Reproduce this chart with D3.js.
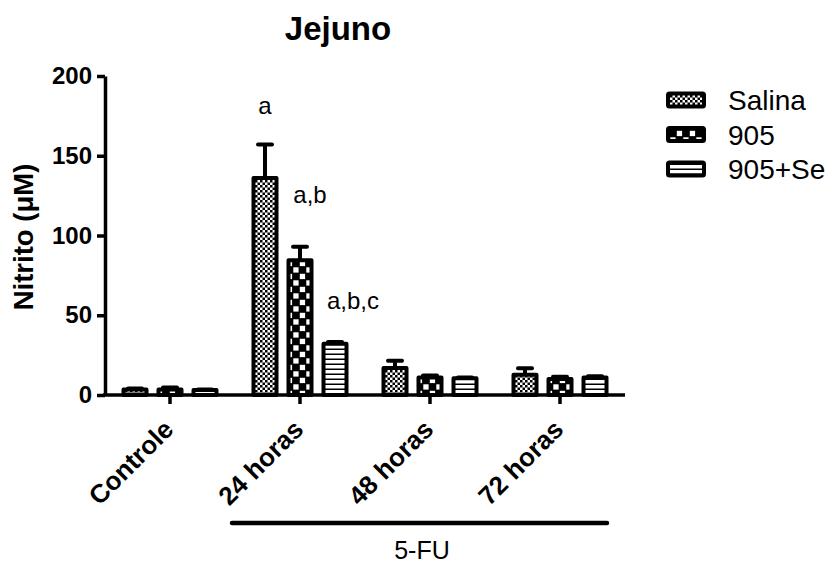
<!DOCTYPE html>
<html>
<head>
<meta charset="utf-8">
<script src="https://cdn.jsdelivr.net/npm/d3@7"></script>
<style>
  html, body { margin: 0; padding: 0; background: #fff; }
  svg { display: block; font-family: Arial, "Liberation Sans", sans-serif; }
</style>
</head>
<body>
<svg id="chart" width="829" height="563"></svg>
<script>
// Nitrite levels (µM) in jejunum, mean and SEM per group
const categories = ["Controle", "24 horas", "48 horas", "72 horas"];
const series = ["Salina", "905", "905+Se"];
const salina     = [3.5, 136, 17, 12.7];
const salinaErr  = [0.5, 21, 4.5, 4];
const g905       = [3.5, 84.5, 11, 10];
const g905Err    = [1.2, 8.5, 1.2, 1.5];
const g905Se     = [3.2, 32.2, 10.5, 11];
const g905SeErr  = [0.3, 1, 0.5, 0.8];
const yTicks = [0, 50, 100, 150, 200];
const sigLetters = ["a", "a,b", "a,b,c"];   // 24 horas: Salina, 905, 905+Se

const values = [salina, g905, g905Se];
const errors = [salinaErr, g905Err, g905SeErr];

const svg = d3.select("#chart");
const ink = "#000";

// ---------- fill patterns ----------
const defs = svg.append("defs");
// fine checkerboard
const pSal = defs.append("pattern").attr("id", "pat-salina")
  .attr("patternUnits", "userSpaceOnUse").attr("width", 5).attr("height", 5);
pSal.append("rect").attr("width", 5).attr("height", 5).attr("fill", "#fff");
pSal.append("rect").attr("width", 2.5).attr("height", 2.5).attr("fill", ink);
pSal.append("rect").attr("x", 2.5).attr("y", 2.5).attr("width", 2.5).attr("height", 2.5).attr("fill", ink);
// coarse checkerboard
const c = 6.5;
const p905 = defs.append("pattern").attr("id", "pat-905")
  .attr("patternUnits", "userSpaceOnUse").attr("width", 2 * c).attr("height", 2 * c);
p905.append("rect").attr("width", 2 * c).attr("height", 2 * c).attr("fill", ink);
p905.append("rect").attr("x", 0.8).attr("y", 0.8).attr("width", c - 1.2).attr("height", c - 1.2).attr("fill", "#fff");
p905.append("rect").attr("x", c + 0.8).attr("y", c + 0.8).attr("width", c - 1.2).attr("height", c - 1.2).attr("fill", "#fff");
// horizontal stripes
const pSe = defs.append("pattern").attr("id", "pat-905se")
  .attr("patternUnits", "userSpaceOnUse").attr("width", 10).attr("height", 5);
pSe.append("rect").attr("width", 10).attr("height", 5).attr("fill", "#fff");
pSe.append("rect").attr("y", 3.5).attr("width", 10).attr("height", 1.5).attr("fill", ink);
const fills = ["url(#pat-salina)", "url(#pat-905)", "url(#pat-905se)"];

// ---------- scales ----------
const x0 = d3.scaleBand().domain(categories).range([105, 625]).padding(0);
const x1 = d3.scalePoint().domain(series).range([-35, 35]);
const y = d3.scaleLinear().domain([0, 200]).range([395, 76]);
const barW = 23, sw = 4;

// ---------- title ----------
svg.append("text").attr("x", 338).attr("y", 40)
  .attr("text-anchor", "middle").attr("font-weight", "bold").attr("font-size", 33)
  .text("Jejuno");

// ---------- y axis ----------
const yAxis = svg.append("g").attr("transform", "translate(105,0)")
  .call(d3.axisLeft(y).tickValues(yTicks).tickSize(8).tickSizeOuter(0).tickPadding(5));
yAxis.select(".domain").attr("stroke", ink).attr("stroke-width", 3.5);
yAxis.selectAll(".tick line").attr("stroke", ink).attr("stroke-width", 3.5);
yAxis.selectAll(".tick text").attr("font-size", 24).attr("font-weight", "bold")
  .attr("font-family", "Arial, 'Liberation Sans', sans-serif").attr("fill", ink);

svg.append("text")
  .attr("transform", "translate(33,237) rotate(-90)")
  .attr("text-anchor", "middle").attr("font-weight", "bold").attr("font-size", 27.5)
  .text("Nitrito (\u03BCM)");

// ---------- bars ----------
categories.forEach((cat, ci) => {
  series.forEach((s, si) => {
    const cx = x0(cat) + x0.bandwidth() / 2 + x1(s);
    const v = values[si][ci], e = errors[si][ci];
    svg.append("rect")
      .attr("x", cx - barW / 2).attr("y", y(v))
      .attr("width", barW).attr("height", y(0) - y(v))
      .attr("fill", fills[si]).attr("stroke", ink).attr("stroke-width", sw)
      .attr("stroke-linejoin", "round");
    // upper error bar
    svg.append("line").attr("x1", cx).attr("x2", cx).attr("y1", y(v)).attr("y2", y(v + e))
      .attr("stroke", ink).attr("stroke-width", 4);
    svg.append("line").attr("x1", cx - 7).attr("x2", cx + 7).attr("y1", y(v + e)).attr("y2", y(v + e))
      .attr("stroke", ink).attr("stroke-width", 4).attr("stroke-linecap", "round");
  });
});

// ---------- x axis ----------
svg.append("line").attr("x1", 103).attr("x2", 625).attr("y1", y(0)).attr("y2", y(0))
  .attr("stroke", ink).attr("stroke-width", 3.5);
categories.forEach(cat => {
  const cx = x0(cat) + x0.bandwidth() / 2;
  svg.append("line").attr("x1", cx).attr("x2", cx).attr("y1", y(0)).attr("y2", y(0) + 9)
    .attr("stroke", ink).attr("stroke-width", 3.5);
  svg.append("text")
    .attr("transform", `translate(${cx + 5},${431}) rotate(-45)`)
    .attr("text-anchor", "end").attr("font-weight", "bold").attr("font-size", 26)
    .text(cat);
});

// ---------- significance letters (24 horas) ----------
const cat24 = categories[1];
const letterOffset = [[0, -31], [10, -44], [18, -33]];
series.forEach((s, si) => {
  const cx = x0(cat24) + x0.bandwidth() / 2 + x1(s);
  const top = y(values[si][1] + errors[si][1]);
  svg.append("text").attr("x", cx + letterOffset[si][0]).attr("y", top + letterOffset[si][1])
    .attr("text-anchor", "middle").attr("font-size", 24)
    .text(sigLetters[si]);
});

// ---------- 5-FU bracket ----------
svg.append("line").attr("x1", 232).attr("x2", 607).attr("y1", 523).attr("y2", 523)
  .attr("stroke", ink).attr("stroke-width", 4.5).attr("stroke-linecap", "round");
svg.append("text").attr("x", 422).attr("y", 559).attr("text-anchor", "middle")
  .attr("font-size", 25).text("5-FU");

// ---------- legend ----------
const legend = svg.append("g");
series.forEach((s, si) => {
  const cy = 100 + si * 34.5;
  legend.append("rect").attr("x", 668).attr("y", cy - 6.5).attr("width", 36).attr("height", 13)
    .attr("rx", 1.5).attr("fill", fills[si]).attr("stroke", ink).attr("stroke-width", sw);
  legend.append("text").attr("x", 728).attr("y", cy + 10).attr("font-size", 28).text(s);
});
</script>
</body>
</html>
